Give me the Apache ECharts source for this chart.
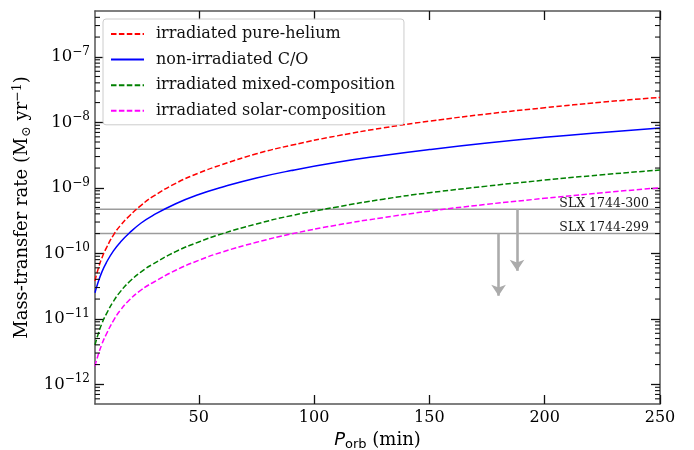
<!DOCTYPE html>
<html>
<head>
<meta charset="utf-8">
<script src="https://cdn.jsdelivr.net/npm/echarts@6/dist/echarts.min.js"></script>
<style>
  html, body { margin: 0; padding: 0; background: #fff; }
  #chart { width: 694px; height: 450px; }
</style>
</head>
<body>
<div id="chart"></div>
<script>
// Orbital periods (min) at which the model tracks are sampled
const periods = [5, 6, 8, 10, 13, 16, 20, 25, 30, 40, 50, 60, 75, 90, 110, 130, 150, 175, 200, 225, 250];

// Mass-transfer rates (Msun / yr) for each model track
const rateHeliumIrr = [3.8e-11, 5.2e-11, 8.5e-11, 1.22e-10, 1.9e-10, 2.65e-10, 3.75e-10, 5.4e-10, 7.3e-10, 1.17e-9, 1.68e-9, 2.25e-9, 3.3e-9, 4.45e-9, 6.2e-9, 8.2e-9, 1.04e-8, 1.34e-8, 1.67e-8, 2.03e-8, 2.4e-8];
const rateCONonIrr = [2.5e-11, 3.3e-11, 5.2e-11, 7.3e-11, 1.09e-10, 1.48e-10, 2.06e-10, 2.9e-10, 3.76e-10, 5.71e-10, 7.9e-10, 1.02e-9, 1.41e-9, 1.83e-9, 2.45e-9, 3.11e-9, 3.83e-9, 4.82e-9, 5.89e-9, 7.0e-9, 8.2e-9];
const rateMixedIrr = [4.0e-12, 5.3e-12, 8.5e-12, 1.2e-11, 1.85e-11, 2.6e-11, 3.7e-11, 5.2e-11, 6.8e-11, 1.06e-10, 1.49e-10, 1.98e-10, 2.8e-10, 3.75e-10, 5.1e-10, 6.7e-10, 8.4e-10, 1.06e-9, 1.31e-9, 1.58e-9, 1.87e-9];
const rateSolarIrr = [1.9e-12, 2.55e-12, 4.1e-12, 5.9e-12, 9.4e-12, 1.35e-11, 1.95e-11, 2.75e-11, 3.55e-11, 5.5e-11, 7.8e-11, 1.04e-10, 1.47e-10, 1.97e-10, 2.7e-10, 3.5e-10, 4.4e-10, 5.6e-10, 6.9e-10, 8.4e-10, 1.0e-9];

const trackNames = ['irradiated pure-helium', 'non-irradiated C/O', 'irradiated mixed-composition', 'irradiated solar-composition'];

// Observed sources: upper limits on the mass-transfer rate
const sourceNames = ['SLX 1744-300', 'SLX 1744-299'];
const sourceRates = [4.7e-10, 2.0e-10];
const sourcePeriods = [188, 180];
const sourceArrowTips = [5.4e-11, 2.25e-11];

// Axis ticks
const periodTicks = [50, 100, 150, 200, 250];
const periodRange = [5, 250];
const rateRange = [5e-13, 5e-7];
const rateMajorTicks = [1e-12, 1e-11, 1e-10, 1e-9, 1e-8, 1e-7];

const SERIF = 'DejaVu Serif';
const SANS = 'DejaVu Sans';
const SPINE_COLOR = '#555555';
const TICK_COLOR = '#111111';

// Minor log ticks: 2..9 times each power of ten inside the rate range
const rateMinorTicks = [];
for (let e = -13; e <= -7; e++) {
  for (let k = 2; k <= 9; k++) {
    const v = Number((k * Math.pow(10, e)).toPrecision(3));
    if (v > rateRange[0] && v < rateRange[1]) rateMinorTicks.push(v);
  }
}

function pairs(values) {
  return periods.map((p, i) => [p, values[i]]);
}

function expLabel(v) {
  const e = Math.round(Math.log10(v));
  return '{b|10}{s|' + (e < 0 ? '\u2212' : '') + Math.abs(e) + '}';
}

const trackStyles = [
  { color: '#ff0000', type: [5.5, 2.4] },
  { color: '#0000ff', type: 'solid' },
  { color: '#008000', type: [5.5, 2.4] },
  { color: '#ff00ff', type: [5.5, 2.4] }
];
const trackValues = [rateHeliumIrr, rateCONonIrr, rateMixedIrr, rateSolarIrr];

const trackSeries = trackNames.map((name, i) => ({
  type: 'line',
  name: name,
  data: pairs(trackValues[i]),
  smooth: 0.5,
  showSymbol: false,
  symbol: 'none',
  color: trackStyles[i].color,
  lineStyle: { color: trackStyles[i].color, width: 1.5, type: trackStyles[i].type },
  silent: true,
  z: 3
}));

const sourceSeries = sourceNames.map((name, i) => ({
  type: 'line',
  name: name,
  data: [[periodRange[0], sourceRates[i]], [periodRange[1], sourceRates[i]]],
  showSymbol: false,
  symbol: 'none',
  lineStyle: { color: '#9c9c9c', width: 1.6 },
  silent: true,
  z: 2,
  endLabel: {
    show: true,
    formatter: name,
    fontFamily: SERIF,
    fontSize: 12.5,
    color: '#1a1a1a',
    align: 'right',
    verticalAlign: 'bottom',
    offset: [-19, 1]
  },
  markLine: {
    silent: true,
    symbol: ['none', 'arrow'],
    symbolSize: 11,
    label: { show: false },
    lineStyle: { color: '#ababab', width: 2.6, type: 'solid' },
    data: [[
      { coord: [sourcePeriods[i], sourceRates[i]] },
      { coord: [sourcePeriods[i], sourceArrowTips[i]] }
    ]]
  }
}));

// Short inward minor ticks on both vertical spines, placed by the rate axis
const minorTickSeries = {
  type: 'custom',
  name: 'minor-ticks',
  silent: true,
  clip: false,
  z: 10,
  encode: { x: 0, y: 1 },
  data: rateMinorTicks.map(v => [periodRange[0], v]),
  renderItem: function (params, api) {
    const v = api.value(1);
    const left = api.coord([periodRange[0], v]);
    const right = api.coord([periodRange[1], v]);
    const style = { stroke: TICK_COLOR, lineWidth: 1.1, fill: null };
    return {
      type: 'group',
      children: [
        { type: 'line', shape: { x1: left[0], y1: left[1], x2: left[0] + 5, y2: left[1] }, style: style },
        { type: 'line', shape: { x1: right[0], y1: right[1], x2: right[0] - 5, y2: right[1] }, style: style }
      ]
    };
  }
};

const chart = echarts.init(document.getElementById('chart'), null, { renderer: 'canvas' });

const xCommon = {
  type: 'value',
  min: periodRange[0],
  max: periodRange[1],
  splitLine: { show: false },
  axisLine: { show: true, onZero: false, lineStyle: { color: SPINE_COLOR, width: 1.5 } },
  axisTick: { show: true, inside: true, length: 9, customValues: periodTicks, lineStyle: { color: TICK_COLOR, width: 1.3 } }
};

const yCommon = {
  type: 'log',
  logBase: 10,
  min: rateRange[0],
  max: rateRange[1],
  splitLine: { show: false },
  axisLine: { show: true, onZero: false, lineStyle: { color: SPINE_COLOR, width: 1.5 } },
  axisTick: { show: true, inside: true, length: 9, customValues: rateMajorTicks, lineStyle: { color: TICK_COLOR, width: 1.3 } },
  minorTick: { show: false }
};

chart.setOption({
  animation: false,
  backgroundColor: '#ffffff',
  grid: { left: 95, top: 11, width: 565, height: 393, containLabel: false, outerBoundsMode: 'none' },
  legend: {
    data: trackNames,
    orient: 'vertical',
    left: 103,
    top: 19,
    itemWidth: 33,
    itemHeight: 14,
    itemGap: 9.6,
    padding: [7, 9, 6, 7],
    backgroundColor: 'rgba(255,255,255,0.85)',
    borderColor: '#cccccc',
    borderWidth: 1,
    borderRadius: 3,
    selectedMode: false,
    itemStyle: { opacity: 0, borderWidth: 0 },
    textStyle: { fontFamily: SERIF, fontSize: 16, color: '#111', padding: [0, 0, 0, 7] }
  },
  xAxis: [
    Object.assign({}, xCommon, {
      position: 'bottom',
      name: '{i|P}{sub|orb}{n| (min)}',
      nameLocation: 'middle',
      nameGap: 24,
      nameTextStyle: {
        rich: {
          i: { fontFamily: SANS, fontStyle: 'italic', fontSize: 18, color: '#000' },
          sub: { fontFamily: SANS, fontSize: 13, color: '#000', padding: [9, 0, 0, 0] },
          n: { fontFamily: SERIF, fontSize: 18, color: '#000' }
        }
      },
      axisLabel: { show: true, customValues: periodTicks, margin: 6, fontFamily: SERIF, fontSize: 16, color: '#000' }
    }),
    Object.assign({}, xCommon, {
      position: 'top',
      axisLabel: { show: false }
    })
  ],
  yAxis: [
    Object.assign({}, yCommon, {
      position: 'left',
      name: '{n|Mass-transfer rate (M}{sub|\u2299}{n| yr}{sup|\u22121}{n|)}',
      nameLocation: 'middle',
      nameGap: 61,
      nameRotate: 90,
      nameTextStyle: {
        rich: {
          n: { fontFamily: SERIF, fontSize: 18, color: '#000' },
          sub: { fontFamily: SERIF, fontSize: 12.5, color: '#000', padding: [8, 0, 0, 1] },
          sup: { fontFamily: SERIF, fontSize: 12.5, color: '#000', padding: [0, 0, 9, 0] }
        }
      },
      axisLabel: {
        show: true,
        margin: 5,
        customValues: rateMajorTicks,
        formatter: expLabel,
        rich: {
          b: { fontFamily: SERIF, fontSize: 16.5, color: '#000' },
          s: { fontFamily: SERIF, fontSize: 12, color: '#000', padding: [0, 0, 10, 0] }
        }
      }
    }),
    Object.assign({}, yCommon, {
      position: 'right',
      axisLabel: { show: false }
    })
  ],
  series: trackSeries.concat(sourceSeries, [minorTickSeries])
});
</script>
</body>
</html>
